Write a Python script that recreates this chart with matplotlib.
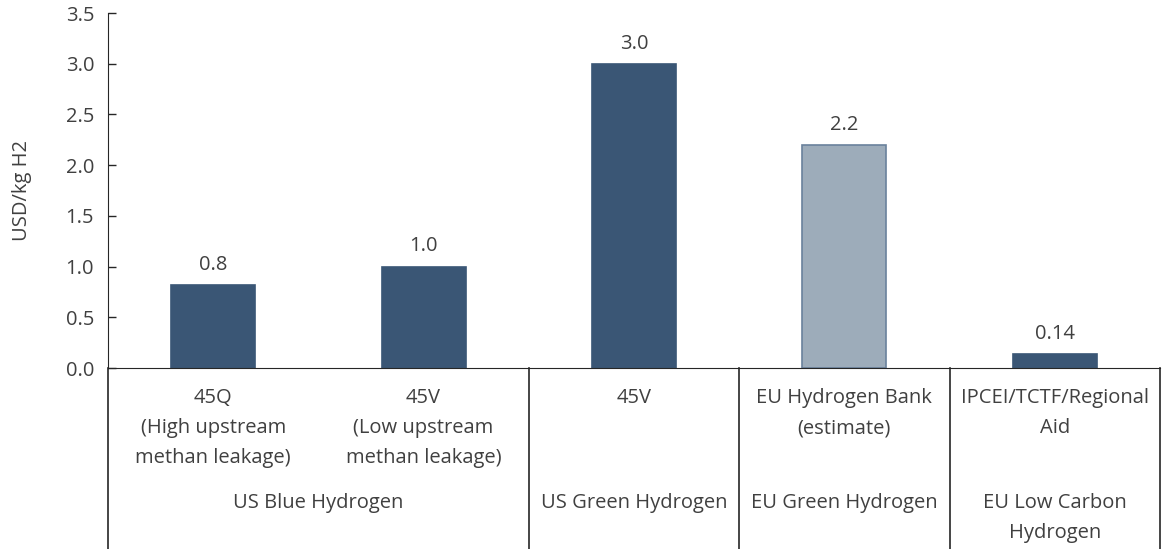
import matplotlib.pyplot as plt

plt.rcParams['font.family'] = ['Open Sans', 'DejaVu Sans']

values = [0.82, 1.0, 3.0, 2.2, 0.14]
value_labels = ["0.8", "1.0", "3.0", "2.2", "0.14"]
sub_labels = ["45Q\n(High upstream\nmethan leakage)",
              "45V\n(Low upstream\nmethan leakage)",
              "45V",
              "EU Hydrogen Bank\n(estimate)",
              "IPCEI/TCTF/Regional\nAid"]
groups = ["US Blue Hydrogen", "US Green Hydrogen", "EU Green Hydrogen",
          "EU Low Carbon\nHydrogen"]
group_spans = [(0, 1), (2, 2), (3, 3), (4, 4)]
estimate = [False, False, False, True, False]

dark = "#3A5675"
light = "#9DACBA"
text_color = "#404040"
line_color = "#262626"
fs = 14.5

fig = plt.figure(figsize=(11.62, 5.49), dpi=100)
ax = fig.add_axes([108 / 1162, 1 - 368 / 549, 1052 / 1162, 355 / 549])

x = list(range(len(values)))
colors = [light if e else dark for e in estimate]
edges = ["#6A819C" if e else dark for e in estimate]
ax.bar(x, values, width=0.4, color=colors, edgecolor=edges, linewidth=1.2, zorder=2)

for xi, v, lab in zip(x, values, value_labels):
    ax.text(xi, v + 0.1, lab, ha="center", va="bottom", fontsize=fs, color=text_color)

ax.set_xlim(-0.5, len(values) - 0.5)
ax.set_ylim(0, 3.5)
ax.set_yticks([i * 0.5 for i in range(8)])
ax.set_yticklabels([f"{i * 0.5:.1f}" for i in range(8)])
ax.tick_params(axis="y", direction="in", length=6, width=1, color=line_color,
               labelsize=fs, labelcolor=text_color, pad=10)
ax.set_xticks([])
ax.set_ylabel("USD/kg H2", fontsize=fs, color=text_color, labelpad=24)

for s in ["top", "right"]:
    ax.spines[s].set_visible(False)
ax.spines["left"].set_color(line_color)
ax.spines["bottom"].set_color(line_color)

trans = ax.get_xaxis_transform()
ax_h = 355
def ay(px):
    return -(px - 368) / ax_h

for xi, lab in zip(x, sub_labels):
    ax.text(xi, ay(388), lab, transform=trans, ha="center", va="top",
            fontsize=fs, color=text_color, linespacing=1.68)

for g, (a, b) in zip(groups, group_spans):
    ax.text((a + b) / 2, ay(493), g, transform=trans, ha="center", va="top",
            fontsize=fs, color=text_color, linespacing=1.68)

seps = [-0.5, 1.5, 2.5, 3.5, 4.5]
for s in seps:
    ax.plot([s, s], [0, ay(560)], transform=trans, color=line_color,
            linewidth=1.2, clip_on=False)

fig.savefig("out.png", dpi=100)
